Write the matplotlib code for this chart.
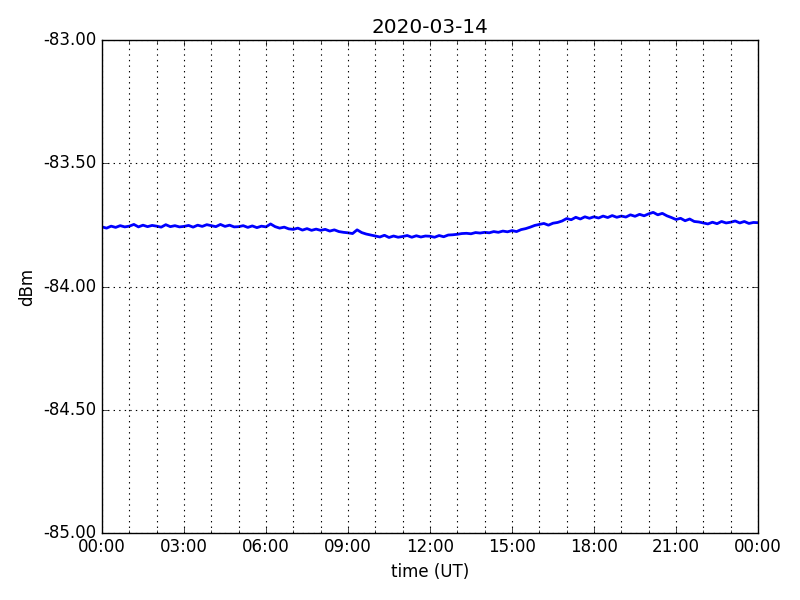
import datetime as dt
import matplotlib
matplotlib.use("Agg")
import matplotlib.pyplot as plt
import matplotlib.dates as mdates
from matplotlib.ticker import FormatStrFormatter, MultipleLocator

plt.style.use("classic")

title = "2020-03-14"
start = dt.datetime(2020, 3, 14, 0, 0)
step_minutes = 10

# signal level (dBm) read every 10 minutes, hour by hour
dbm = [
    -83.758, -83.763, -83.755, -83.760, -83.753, -83.758,
    -83.755, -83.748, -83.758, -83.751, -83.757, -83.752,
    -83.755, -83.759, -83.749, -83.757, -83.753, -83.758,
    -83.756, -83.752, -83.759, -83.751, -83.756, -83.749,
    -83.753, -83.757, -83.748, -83.756, -83.751, -83.758,
    -83.757, -83.753, -83.760, -83.754, -83.761, -83.755,
    -83.758, -83.746, -83.757, -83.763, -83.759, -83.766,
    -83.768, -83.763, -83.771, -83.765, -83.772, -83.767,
    -83.772, -83.768, -83.775, -83.770, -83.777, -83.780,
    -83.782, -83.785, -83.770, -83.781, -83.787, -83.791,
    -83.795, -83.799, -83.792, -83.801, -83.795, -83.800,
    -83.797, -83.793, -83.800, -83.794, -83.799, -83.795,
    -83.796, -83.800, -83.793, -83.798, -83.791, -83.790,
    -83.788, -83.785, -83.784, -83.786, -83.781, -83.783,
    -83.780, -83.782, -83.777, -83.780, -83.775, -83.778,
    -83.773, -83.777, -83.769, -83.765, -83.759, -83.752,
    -83.748, -83.744, -83.751, -83.743, -83.740, -83.734,
    -83.724, -83.729, -83.719, -83.726, -83.717, -83.723,
    -83.717, -83.722, -83.714, -83.720, -83.712, -83.719,
    -83.714, -83.718, -83.709, -83.715, -83.707, -83.713,
    -83.705, -83.699, -83.709, -83.703, -83.713, -83.720,
    -83.728, -83.723, -83.733, -83.726, -83.736, -83.738,
    -83.742, -83.746, -83.739, -83.745, -83.736, -83.742,
    -83.739, -83.734, -83.742, -83.736, -83.744, -83.740,
    -83.741,
]

times = [start + dt.timedelta(minutes=step_minutes * i) for i in range(len(dbm))]

fig = plt.figure(figsize=(8, 6), dpi=100)
ax = fig.add_subplot(111)
fig.subplots_adjust(left=0.1275, right=0.9475, top=0.933, bottom=0.112)

ax.plot(times, dbm, color="b", linewidth=2.0)

ax.set_xlim(start, start + dt.timedelta(days=1))
ax.set_ylim(-85.0, -83.0)
ax.xaxis.set_major_locator(mdates.HourLocator(byhour=range(0, 24, 3)))
ax.xaxis.set_minor_locator(mdates.HourLocator())
ax.xaxis.set_major_formatter(mdates.DateFormatter("%H:%M"))
ax.yaxis.set_major_locator(MultipleLocator(0.5))
ax.yaxis.set_major_formatter(FormatStrFormatter("%.2f"))
ax.grid(True, which="both", color="k", linestyle=":", linewidth=0.8)

ax.set_title(title)
ax.set_xlabel("time (UT)")
ax.set_ylabel("dBm")

fig.savefig("out.png", dpi=100)
